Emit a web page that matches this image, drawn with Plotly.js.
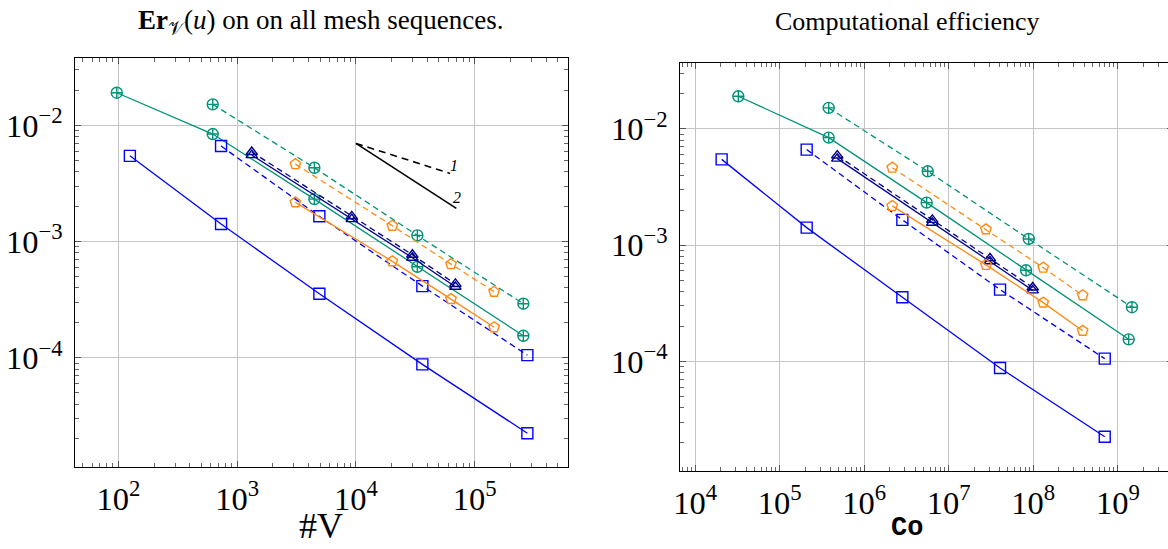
<!DOCTYPE html>
<html>
<head>
<meta charset="utf-8">
<script src="https://cdn.plot.ly/plotly-3.0.1.min.js"></script>
<style>
html,body{margin:0;padding:0;background:#fff;overflow:hidden;width:1168px;height:549px;}
#chart{width:1180px;height:549px;}
</style>
</head>
<body>
<div id="chart"></div>
<script>
// ---------- data ----------
// error values (shared by both panels)
const greenSolidErr  = [0.0191, 0.00842, 0.00232, 0.000607, 0.0001546];
const greenDashErr   = [0.01517, 0.00432, 0.00113, 0.000292];
const blueSolidErr   = [0.00547, 0.001415, 0.000356, 0.0000877, 0.0000224];
const blueDashErr    = [0.00664, 0.00165, 0.000414, 0.0001054];
const navySolidErr   = [0.00555, 0.00156, 0.000726, 0.000408];
const navyDashErr    = [0.0059, 0.00165, 0.00077, 0.000432];
const orangeSolidErr = [0.002175, 0.000676, 0.00032, 0.000183];
const orangeDashErr  = [0.00464, 0.001368, 0.00064, 0.00037];

// number of vertices #V (left panel)
const greenSolidV  = [97, 623, 4467, 32880, 256500];
const greenDashV   = [623, 4467, 32880, 256500];
const blueSolidV   = [125, 732, 4920, 36230, 277300];
const blueDashV    = [732, 4920, 36230, 277300];
const navyV        = [1327, 9220, 29850, 68700];
const orangeV      = [3090, 20230, 63100, 145500];

// computational cost Co (right panel)
const greenSolidCo = [3.23e4, 3.79e5, 5.47e6, 8.2e7, 1.345e9];
const greenDashCo  = [3.79e5, 5.63e6, 8.83e7, 1.47e9];
const blueSolidCo  = [2.05e4, 2.08e5, 2.82e6, 4.04e7, 7.0e8];
const blueDashCo   = [2.08e5, 2.82e6, 4.04e7, 7.0e8];
const navyCo       = [4.79e5, 6.38e6, 3.07e7, 9.84e7];
const orangeCo     = [2.14e6, 2.75e7, 1.31e8, 3.84e8];

// slope reference triangle (left panel)
const slopeOrder1X = [1.0e4, 6.2e4];
const slopeOrder1Y = [0.0070, 0.00386];
const slopeOrder2X = [1.0e4, 7.0e4];
const slopeOrder2Y = [0.0070, 0.00193];
const slopeLabels  = ['1', '2'];

const titleLeft  = '<b>Er</b><sub>𝒱</sub>(<i>u</i>) on on all mesh sequences.';
const titleRight = 'Computational efficiency';
const xLabelLeft = '#V';
const xLabelRight = 'Co';

// ---------- styling ----------
const W = 1180, H = 549;
const GREEN = '#009377', BLUE = '#0000ff', NAVY = '#00008f', ORANGE = '#ff8a12';
const FONT = '"Liberation Serif", "Times New Roman", serif';
const MONO = '"Liberation Mono", "DejaVu Sans Mono", monospace';

function series(x, y, color, dash, symbol, size, xa, ya) {
  return {
    x: x, y: y, xaxis: xa, yaxis: ya, type: 'scatter', mode: 'lines+markers',
    line: {color: color, width: 1.3, dash: dash ? '6px,4px' : 'solid'},
    marker: {symbol: symbol, size: size, color: color, line: {color: color, width: 1.4}},
    hoverinfo: 'skip'
  };
}

const traces = [];
[['x', 'y', [greenSolidV, greenDashV, blueSolidV, blueDashV, navyV, navyV, orangeV, orangeV]],
 ['x2', 'y2', [greenSolidCo, greenDashCo, blueSolidCo, blueDashCo, navyCo, navyCo, orangeCo, orangeCo]]]
.forEach(([xa, ya, xs]) => {
  traces.push(series(xs[0], greenSolidErr, GREEN, false, 'circle-cross-open', 11, xa, ya));
  traces.push(series(xs[1], greenDashErr, GREEN, true, 'circle-cross-open', 11, xa, ya));
  traces.push(series(xs[2], blueSolidErr, BLUE, false, 'square-open', 11, xa, ya));
  traces.push(series(xs[3], blueDashErr, BLUE, true, 'square-open', 11, xa, ya));
  traces.push(series(xs[4], navySolidErr, NAVY, false, 'triangle-up-open', 10, xa, ya));
  traces.push(series(xs[5], navyDashErr, NAVY, true, 'triangle-up-open', 10, xa, ya));
  traces.push(series(xs[6], orangeSolidErr, ORANGE, false, 'pentagon-open', 11, xa, ya));
  traces.push(series(xs[7], orangeDashErr, ORANGE, true, 'pentagon-open', 11, xa, ya));
});

traces.push({x: slopeOrder1X, y: slopeOrder1Y, xaxis: 'x', yaxis: 'y', mode: 'lines',
  line: {color: '#000', width: 1.6, dash: '7px,5px'}, hoverinfo: 'skip'});
traces.push({x: slopeOrder2X, y: slopeOrder2Y, xaxis: 'x', yaxis: 'y', mode: 'lines',
  line: {color: '#000', width: 1.6}, hoverinfo: 'skip'});

function axis(extra) {
  return Object.assign({
    type: 'log', dtick: 1, exponentformat: 'power', showexponent: 'all',
    showline: true, linecolor: '#000', linewidth: 1.2, mirror: 'allticks',
    ticks: 'inside', ticklen: 6, tickwidth: 1, tickcolor: '#555',
    showgrid: true, gridcolor: '#c4c4c4', gridwidth: 1, zeroline: false,
    tickfont: {family: FONT, size: 26, color: '#000'},
    minor: {ticks: 'inside', ticklen: 4, tickcolor: '#666', tickwidth: 1, dtick: 'D1', showgrid: false}
  }, extra);
}

const layout = {
  width: W, height: H, autosize: false,
  margin: {l: 0, r: 0, t: 0, b: 0},
  paper_bgcolor: '#fff', plot_bgcolor: '#fff', showlegend: false,
  font: {family: FONT, color: '#000'},
  xaxis: axis({domain: [75 / W, 568 / W], range: [1.635, 5.785], anchor: 'y', ticklabelstandoff: 4}),
  yaxis: axis({domain: [(H - 467) / H, (H - 58) / H], range: [-4.94, -1.42], anchor: 'x', ticklabelstandoff: 6}),
  xaxis2: axis({domain: [680 / W, 1173 / W], range: [3.819, 9.653], anchor: 'y2', ticklabelstandoff: 4}),
  yaxis2: axis({domain: [(H - 471) / H, (H - 62.7) / H], range: [-4.944, -1.43], anchor: 'x2', ticklabelstandoff: 6}),
  annotations: [
    {text: titleLeft, xref: 'paper', yref: 'paper', x: 320 / W, y: (H - 22) / H,
     xanchor: 'center', yanchor: 'middle', showarrow: false, font: {family: FONT, size: 27}},
    {text: titleRight, xref: 'paper', yref: 'paper', x: 907 / W, y: (H - 22) / H,
     xanchor: 'center', yanchor: 'middle', showarrow: false, font: {family: FONT, size: 26}},
    {text: xLabelLeft, xref: 'paper', yref: 'paper', x: 321 / W, y: (H - 526) / H,
     xanchor: 'center', yanchor: 'middle', showarrow: false, font: {family: FONT, size: 36}},
    {text: '<b>' + xLabelRight + '</b>', xref: 'paper', yref: 'paper', x: 907 / W, y: (H - 528) / H,
     xanchor: 'center', yanchor: 'middle', showarrow: false, font: {family: MONO, size: 27}},
    {text: '<i>' + slopeLabels[0] + '</i>', xref: 'x', yref: 'y',
     x: Math.log10(slopeOrder1X[1]) + 0.035, y: Math.log10(slopeOrder1Y[1]) + 0.07,
     showarrow: false, font: {family: FONT, size: 16}},
    {text: '<i>' + slopeLabels[1] + '</i>', xref: 'x', yref: 'y',
     x: Math.log10(slopeOrder2X[1]) + 0.005, y: Math.log10(slopeOrder2Y[1]) + 0.09,
     showarrow: false, font: {family: FONT, size: 16}}
  ]
};

Plotly.newPlot('chart', traces, layout, {staticPlot: true, displayModeBar: false});
</script>
</body>
</html>
